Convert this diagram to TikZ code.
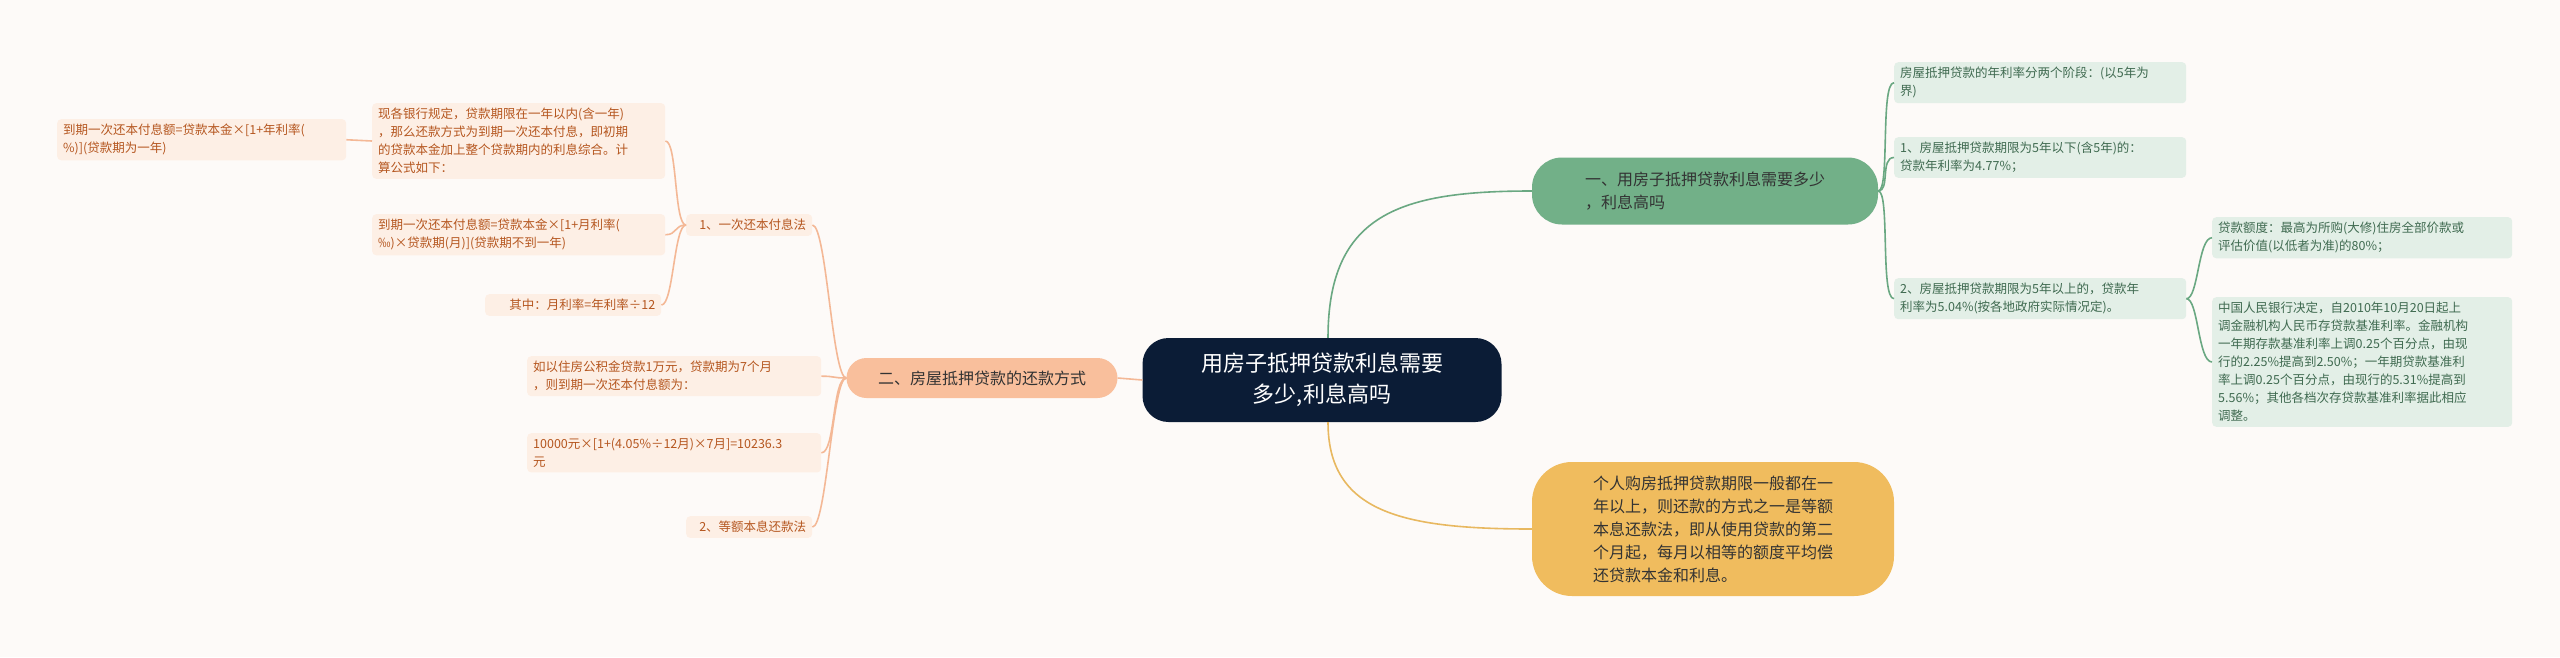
\documentclass[tikz,border=0pt]{standalone}
\usepackage{fontspec}
\setmainfont{Noto Sans CJK SC}
\begin{document}
\begin{tikzpicture}[x=1pt,y=-1pt,
  gl/.style={fill=glf,rounded corners=4pt,text=gtx,font=\fontsize{12.5}{18}\selectfont,align=left,inner xsep=6pt,inner ysep=5pt,anchor=north west,text width=#1},
  ol/.style={fill=olf,rounded corners=4pt,text=otx,font=\fontsize{12.5}{18}\selectfont,align=left,inner xsep=6pt,inner ysep=5pt,anchor=north west,text width=#1},
  gc/.style={draw=gln,line width=1.6pt},
  oc/.style={draw=oln,line width=1.6pt},
  yc/.style={draw=yln,line width=1.6pt}]
\definecolor{bg}{HTML}{FDFAF8}
\definecolor{glf}{HTML}{E3EFE7}
\definecolor{gtx}{HTML}{3F6A50}
\definecolor{olf}{HTML}{FDEFE5}
\definecolor{otx}{HTML}{B5561F}
\definecolor{gln}{HTML}{6AA882}
\definecolor{gmf}{HTML}{72B088}
\definecolor{oln}{HTML}{F4B896}
\definecolor{yln}{HTML}{E8B860}
\definecolor{navy}{HTML}{0B1C36}
\definecolor{ylf}{HTML}{F0BC5E}
\definecolor{omf}{HTML}{F9BF9C}
\fill[bg] (0,0) rectangle (2560,657);
\useasboundingbox (0,0) rectangle (2560,657);
\node (c) [fill=navy,rounded corners=26pt,minimum width=359pt,minimum height=84pt,text=white,align=center,font=\fontsize{22}{31}\selectfont] at (1322,380) {用房子抵押贷款利息需要\\多少,利息高吗};
\node (g) [fill=gmf,rounded corners=30pt,minimum width=346pt,minimum height=67pt,text=black!80,align=left,font=\fontsize{16}{23}\selectfont] at (1705,191) {一、用房子抵押贷款利息需要多少\\，利息高吗};
\node (g1) [gl=280pt] at (1894,62) {房屋抵押贷款的年利率分两个阶段：(以5年为\\界)};
\node (g2) [gl=280pt] at (1894,137) {1、房屋抵押贷款期限为5年以下(含5年)的：\\贷款年利率为4.77\%；};
\node (g3) [gl=280pt] at (1894,278) {2、房屋抵押贷款期限为5年以上的，贷款年\\利率为5.04\%(按各地政府实际情况定)。};
\node (s1) [gl=288pt] at (2212,217) {贷款额度：最高为所购(大修)住房全部价款或\\评估价值(以低者为准)的80\%；};
\node (s2) [gl=288pt] at (2212,297) {中国人民银行决定，自2010年10月20日起上\\调金融机构人民币存贷款基准利率。金融机构\\一年期存款基准利率上调0.25个百分点，由现\\行的2.25\%提高到2.50\%；一年期贷款基准利\\率上调0.25个百分点，由现行的5.31\%提高到\\5.56\%；其他各档次存贷款基准利率据此相应\\调整。};
\node (yy) [fill=ylf,rounded corners=40pt,minimum width=362pt,minimum height=134pt,text=black!80,align=left,font=\fontsize{16}{23}\selectfont] at (1713,529) {个人购房抵押贷款期限一般都在一\\年以上，则还款的方式之一是等额\\本息还款法，即从使用贷款的第二\\个月起，每月以相等的额度平均偿\\还贷款本金和利息。};
\node (o) [fill=omf,rounded corners=20pt,minimum width=271pt,minimum height=40pt,text=black!80,font=\fontsize{16}{20}\selectfont] at (982,378) {二、房屋抵押贷款的还款方式};
\node (o1) [ol=114pt,align=right] at (686,214) {1、一次还本付息法};
\node (o2) [ol=282pt] at (527,356) {如以住房公积金贷款1万元，贷款期为7个月\\，则到期一次还本付息额为：};
\node (o3) [ol=282pt] at (527,433) {10000元×[1+(4.05\%÷12月)×7月]=10236.3\\元};
\node (o4) [ol=114pt,align=right] at (686,516) {2、等额本息还款法};
\node (a1) [ol=281pt] at (372,103) {现各银行规定，贷款期限在一年以内(含一年)\\，那么还款方式为到期一次还本付息，即初期\\的贷款本金加上整个贷款期内的利息综合。计\\算公式如下：};
\node (a2) [ol=281pt] at (372,214) {到期一次还本付息额=贷款本金×[1+月利率(\\‰)×贷款期(月)](贷款期不到一年)};
\node (a3) [ol=164pt,align=right] at (485,294) {其中：月利率=年利率÷12};
\node (b1) [ol=277pt] at (57,119) {到期一次还本付息额=贷款本金×[1+年利率(\\\%)](贷款期为一年)};
\draw[gc] ([xshift=6pt]c.north) .. controls +(0,-125) and +(-130,0) .. (g.west);
\draw[yc] ([xshift=6pt]c.south) .. controls +(0,90) and +(-130,0) .. (yy.west);
\draw[oc] (c.west) -- (o.east);
\foreach \n in {g1,g2,g3} \draw[gc] (g.east) .. controls +(12,0) and +(-14,0) .. (\n.west);
\foreach \n in {s1,s2} \draw[gc] (g3.east) .. controls +(12,0) and +(-14,0) .. (\n.west);
\foreach \n in {o1,o2,o3,o4} \draw[oc] (o.west) .. controls +(-14,0) and +(14,0) .. (\n.east);
\foreach \n in {a1,a2,a3} \draw[oc] (o1.west) .. controls +(-12,0) and +(12,0) .. (\n.east);
\draw[oc] (a1.west) -- (b1.east);
\end{tikzpicture}
\end{document}
